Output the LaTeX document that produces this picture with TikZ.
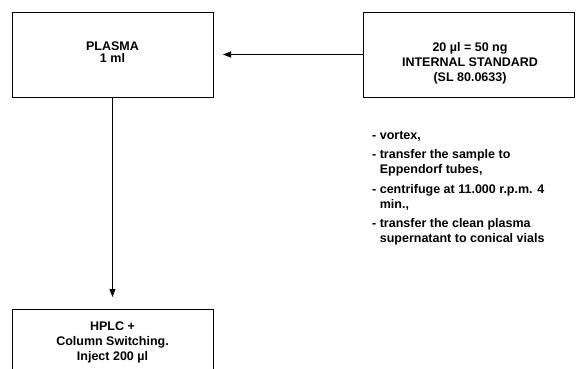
\documentclass[tikz,border=0pt]{standalone}
\usepackage{fontspec}
\setmainfont{Liberation Sans}
\usetikzlibrary{arrows.meta}
\tikzset{
  box/.style={draw, line width=0.9pt, minimum width=201pt, minimum height=85pt, inner sep=0pt},
  boxtext/.style={inner sep=0pt, align=center, font=\bfseries\fontsize{12.5}{15}\selectfont},
  conn/.style={line width=0.8pt, -{Triangle[length=8pt,width=6pt]}},
  txt/.style={font=\bfseries\fontsize{12.5}{15}\selectfont, align=left, anchor=north west, inner sep=0pt}
}
\begin{document}
\begin{tikzpicture}[x=1pt,y=-1pt]
\useasboundingbox (0,0) rectangle (579,368);
\clip (0,0) rectangle (579,368);
\node[box] (plasma) at (112.5,54.5) {};
\node[boxtext, font=\bfseries\fontsize{12.5}{12}\selectfont] (plasmatext) at (112.5,52.5) {PLASMA\\1 ml};
\node[box, minimum width=211pt] (istd) at (468.5,54.5) {};
\node[boxtext] (istdtext) at (470,63) {20 µl = 50 ng\\INTERNAL STANDARD\\(SL 80.0633)};
\node[box, minimum height=100pt, anchor=north] (hplc) at (112.5,309) {};
\node[boxtext] (hplctext) at (112.5,342) {HPLC +\\Column Switching.\\Inject 200 µl};
\draw[conn] (istd.west) -- (plasma.east -| 223,0);
\draw[conn] (plasma.south) -- (plasma.south |- 0,297);
\node[txt] (steps) at (372,131) {- vortex,\\[4.5pt]
- transfer the sample to\\\hphantom{- }Eppendorf tubes,\\[4.5pt]
- centrifuge at 11.000 r.p.m. 4\\\hphantom{- }min.,\\[4.5pt]
- transfer the clean plasma\\\hphantom{- }supernatant to conical vials};
\end{tikzpicture}
\end{document}
